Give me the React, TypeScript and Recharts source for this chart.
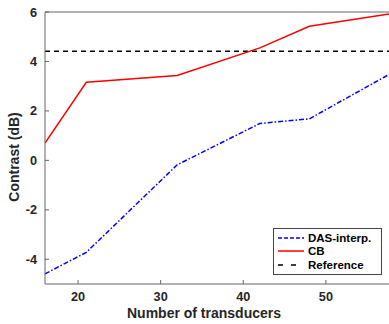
import { LineChart, Line, XAxis, YAxis, ReferenceLine } from "recharts"

const transducers = [16, 21, 32, 42, 48, 58]
const dasInterp = [-4.59, -3.72, -0.18, 1.49, 1.68, 3.54]
const cb = [0.7, 3.16, 3.43, 4.55, 5.42, 5.94]
const referenceContrast = 4.41

const xDomain = [16, 58]
const yDomain = [-5, 6]
const xTicks = [20, 30, 40, 50]
const yTicks = [-4, -2, 0, 2, 4, 6]

const data = transducers.map((n, i) => ({ n, das: dasInterp[i], cb: cb[i] }))

const font = "'Liberation Sans', Arial, Helvetica, sans-serif"
const axisColor = "#666"
const textColor = "#262626"

const legendItems = [
  { label: "DAS-interp.", color: "#0000ff", dash: "4 2", len: 26 },
  { label: "CB", color: "#ff0000", dash: undefined, len: 26 },
  { label: "Reference", color: "#000", dash: "5 8", len: 18 },
]

function LegendBox() {
  return (
    <div style={{ position: "absolute", left: 273, top: 228, width: 109, boxSizing: "border-box", border: "1px solid #444", background: "#fff", padding: "2px 4px", fontFamily: font, fontWeight: "bold", fontSize: 11.5, color: "#000" }}>
      {legendItems.map((it) => (
        <div key={it.label} style={{ display: "flex", alignItems: "center", height: 13.5 }}>
          <svg width={26} height={6} style={{ marginRight: 4 }}>
            <line x1={0} y1={3} x2={it.len} y2={3} stroke={it.color} strokeWidth={1.5} strokeDasharray={it.dash} />
          </svg>
          <span>{it.label}</span>
        </div>
      ))}
    </div>
  )
}

function YLabel() {
  return (
    <text transform="rotate(-90, 14, 157)" x={14} y={157} textAnchor="middle" dominantBaseline="central"
      style={{ fontFamily: font, fontWeight: "bold", fontSize: 14, fill: textColor }}>
      Contrast (dB)
    </text>
  )
}

function XLabel() {
  return (
    <text x={204} y={313} textAnchor="middle" dominantBaseline="central"
      style={{ fontFamily: font, fontWeight: "bold", fontSize: 14, fill: textColor }}>
      Number of transducers
    </text>
  )
}

const tickStyle = { fontFamily: font, fontWeight: "bold", fontSize: 12.7, fill: textColor }

export default function App() {
  return (
    <div style={{ position: "absolute", left: 0, top: 0, width: 389, height: 324, overflow: "hidden", background: "#fff" }}>
      <LineChart width={400} height={324} data={data} margin={{ top: 12, right: 8, left: 0, bottom: 0 }}>
        <XAxis xAxisId="b" dataKey="n" type="number" domain={xDomain} ticks={xTicks} allowDataOverflow
          height={40} stroke={axisColor} tickSize={-4} tickMargin={12} tick={tickStyle} label={<XLabel />} />
        <XAxis xAxisId="t" orientation="top" dataKey="n" type="number" domain={xDomain} ticks={xTicks}
          height={0} stroke={axisColor} tickSize={-4} tickFormatter={() => ""} />
        <YAxis yAxisId="l" domain={yDomain} ticks={yTicks} allowDataOverflow width={45}
          stroke={axisColor} tickSize={-4} tickMargin={12} tick={tickStyle} label={<YLabel />} />
        <YAxis yAxisId="r" orientation="right" domain={yDomain} ticks={yTicks} width={0}
          stroke={axisColor} tickSize={-4} tickFormatter={() => ""} />
        {/* box edge on top, like MATLAB's "box on" */}
        <ReferenceLine xAxisId="b" yAxisId="l" y={yDomain[1]} stroke={axisColor} />
        <ReferenceLine xAxisId="b" yAxisId="l" y={referenceContrast} stroke="#000" strokeWidth={1.5} strokeDasharray="5 4" />
        <Line xAxisId="b" yAxisId="l" dataKey="das" stroke="#0000ff" strokeWidth={1.5} strokeDasharray="5 2 1.5 2"
          dot={false} isAnimationActive={false} />
        <Line xAxisId="b" yAxisId="l" dataKey="cb" stroke="#ff0000" strokeWidth={1.5}
          dot={false} isAnimationActive={false} />
      </LineChart>
      <LegendBox />
    </div>
  )
}
